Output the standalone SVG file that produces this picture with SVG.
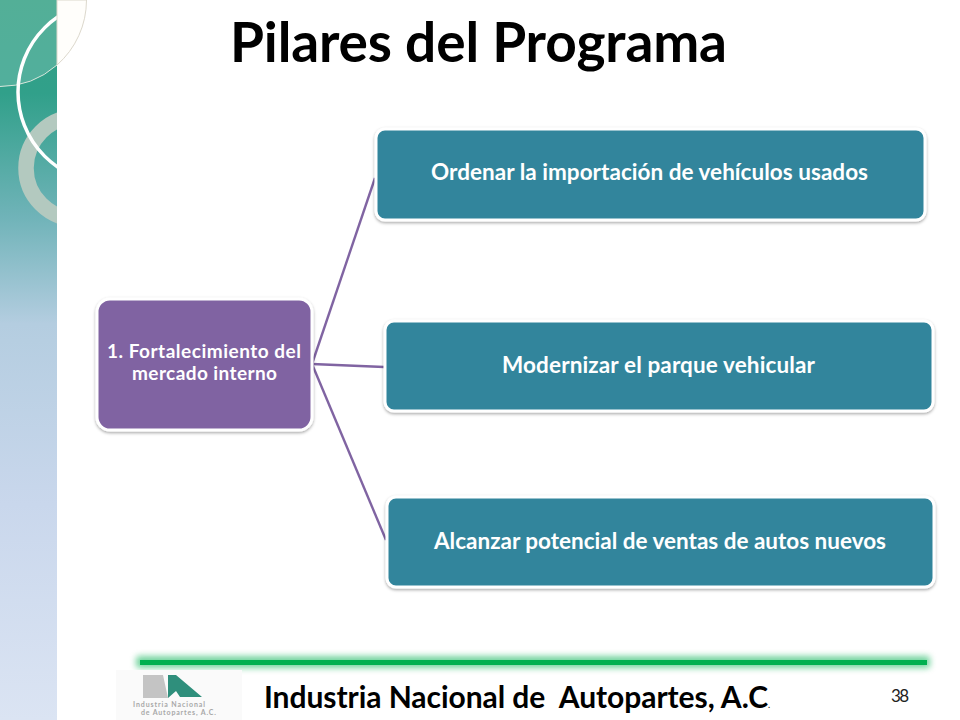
<svg xmlns="http://www.w3.org/2000/svg" width="960" height="720" viewBox="0 0 960 720">
<style>
text{font-family:Lato,"Open Sans","Liberation Sans",sans-serif}
.b{font-weight:700;fill:#fff}
.l{font-size:22.500px}
.box{fill:#31859c;stroke:#fff;stroke-width:3;filter:url(#sh)}
.c{stroke:#8064a2;stroke-width:2.4;fill:none}
</style>
<defs>
<linearGradient id="bg" x1="0" y1="0" x2="0" y2="1">
<stop offset="0" stop-color="#33a084"/><stop offset=".13" stop-color="#31a08a"/><stop offset=".3" stop-color="#6fb3b8"/><stop offset=".45" stop-color="#b4cde0"/><stop offset=".7" stop-color="#c9d7ec"/><stop offset="1" stop-color="#dbe4f3"/>
</linearGradient>
<filter id="sh" x="-10%" y="-10%" width="120%" height="125%"><feDropShadow dx="0" dy="1.5" stdDeviation="1.6" flood-color="#000" flood-opacity=".35"/></filter>
<filter id="gl" x="-5%" y="-300%" width="110%" height="700%"><feGaussianBlur stdDeviation="3"/></filter>
<clipPath id="side"><rect x="0" y="0" width="57" height="720"/></clipPath>
</defs>
<rect width="960" height="720" fill="#fff"/>
<g id="sidebar">
<rect x="0" y="0" width="57" height="720" fill="url(#bg)"/>
<g clip-path="url(#side)">
<circle cx="77" cy="168" r="51" fill="none" stroke="#b3c9bf" stroke-width="15.500"/>
<path d="M0 0H86.500A86.500 86.500 0 0 1 0 86.500Z" fill="#fff" fill-opacity=".16"/>
<path d="M0 86.500A86.500 86.500 0 0 0 57 65" fill="none" stroke="#d8e6dc" stroke-width="1"/>
<circle cx="108.700" cy="92" r="90.700" fill="none" stroke="#fff" stroke-width="3.500"/>
</g>
<path d="M57 65A86.500 86.500 0 0 0 86.500 0H57Z" fill="#fffefb" stroke="#dcd8cc" stroke-width="1"/>
</g>
<text id="title" x="230" y="62" textLength="497" font-size="55" font-weight="700" fill="#000">Pilares del Programa</text>
<g id="connectors">
<path class="c" d="M312 364L375 178"/>
<path class="c" d="M312 364L384 367"/>
<path class="c" d="M312 364L386 540"/>
</g>
<g id="n0">
<rect x="97" y="299" width="215" height="131" rx="13" fill="#8064a2" stroke="#fff" stroke-width="3" filter="url(#sh)"/>
<text class="b" x="107" y="358" textLength="194" font-size="19">1. Fortalecimiento del</text>
<text class="b" x="132" y="380" textLength="145" font-size="19">mercado interno</text>
</g>
<g id="n1">
<rect class="box" x="376" y="129" width="549" height="91" rx="9"/>
<text class="b l" x="431" y="180" textLength="437">Ordenar la importación de vehículos usados</text>
</g>
<g id="n2">
<rect class="box" x="385" y="321" width="548" height="90" rx="9"/>
<text class="b l" x="502" y="373" textLength="313">Modernizar el parque vehicular</text>
</g>
<g id="n3">
<rect class="box" x="387" y="497" width="547" height="90" rx="9"/>
<text class="b l" x="434" y="549" textLength="452">Alcanzar potencial de ventas de autos nuevos</text>
</g>
<g id="rule">
<rect x="136" y="656" width="794" height="12" rx="3" fill="#00b050" opacity=".55" filter="url(#gl)"/>
<rect x="140" y="660" width="787" height="5" fill="#00b050"/>
</g>
<g id="logo">
<rect x="116" y="670" width="126" height="50" fill="#fafafa"/>
<path d="M143 675H163L168 698H143Z" fill="#c4c4c4"/>
<path d="M168 675H176L202 697H180L176 691L168 698Z" fill="#2f8f7c"/>
<text x="133" y="707" textLength="72" font-size="7" font-weight="700" fill="#a8a8a8">Industria Nacional</text>
<text x="141" y="715" textLength="75" font-size="7" font-weight="700" fill="#a8a8a8">de Autopartes, A.C.</text>
</g>
<text id="footer" x="264" y="708" font-size="30" font-weight="700" fill="#000" style="white-space:pre" textLength="504">Industria Nacional de  Autopartes, A.C</text>
<text id="dot" x="768" y="708" font-size="9" fill="#000">.</text>
<text id="page" x="891" y="702" textLength="18" font-size="17" fill="#222">38</text>
</svg>
